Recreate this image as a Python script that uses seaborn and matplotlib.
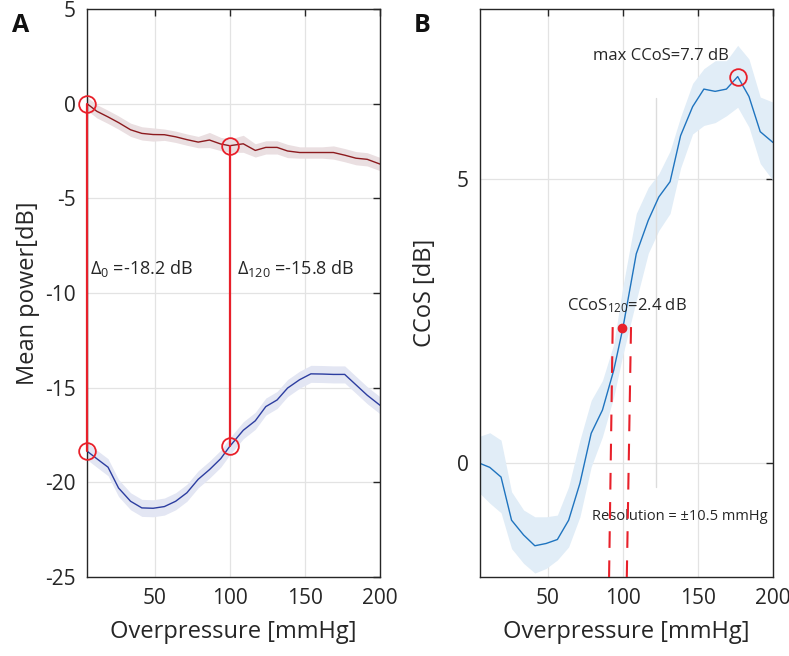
import numpy             as np
import pandas            as pd
import seaborn           as sns
import matplotlib.pyplot as plt


# ---- data ----
pressure = [5, 11.5, 19, 26, 34, 41.5, 49, 56.5, 64, 71.5, 79, 86.5, 94, 100,
            109, 117, 124, 131.5, 138.5, 146.5, 154, 161.5, 169, 176.5, 184, 191.5, 200]

power_ref = [0.0, -0.4, -0.7, -1.0, -1.38, -1.57, -1.63, -1.64, -1.75, -1.9, -2.03, -1.92, -2.13, -2.22,
             -2.12, -2.47, -2.31, -2.31, -2.5, -2.58, -2.58, -2.58, -2.58, -2.72, -2.88, -2.94, -3.19]
power_ref_sd = [0.35, 0.35, 0.35, 0.35, 0.35, 0.35, 0.35, 0.3, 0.3, 0.3, 0.3, 0.4, 0.35, 0.35,
                0.45, 0.35, 0.35, 0.35, 0.35, 0.3, 0.3, 0.3, 0.35, 0.35, 0.35, 0.35, 0.35]

power_occ = [-18.35, -18.75, -19.2, -20.3, -21.0, -21.35, -21.37, -21.28, -21.0, -20.55, -19.84, -19.33, -18.75, -18.1,
             -17.25, -16.75, -16.0, -15.65, -15.02, -14.58, -14.27, -14.28, -14.3, -14.3, -14.85, -15.4, -15.93]
power_occ_sd = [0.45, 0.45, 0.45, 0.45, 0.45, 0.45, 0.45, 0.45, 0.45, 0.45, 0.45, 0.45, 0.45, 0.45,
                0.45, 0.45, 0.45, 0.45, 0.45, 0.45, 0.45, 0.45, 0.45, 0.45, 0.45, 0.45, 0.45]

ccos = [0.0, -0.07, -0.24, -1.0, -1.26, -1.45, -1.41, -1.34, -1.0, -0.35, 0.53, 0.94, 1.64, 2.37,
        3.69, 4.28, 4.69, 4.96, 5.77, 6.28, 6.59, 6.55, 6.59, 6.81, 6.46, 5.84, 5.65]
ccos_hi = [0.48, 0.54, 0.41, -0.5, -0.82, -0.94, -0.94, -0.91, -0.41, 0.41, 1.11, 1.46, 2.1, 3.1,
           4.4, 4.86, 5.1, 5.5, 6.1, 6.69, 6.95, 7.09, 7.09, 7.36, 7.12, 6.45, 6.36]
ccos_lo = [-0.53, -0.7, -0.87, -1.5, -1.76, -1.93, -1.85, -1.7, -1.47, -0.94, -0.06, 0.47, 1.17, 1.9,
           2.87, 3.7, 4.1, 4.4, 5.2, 5.8, 5.95, 6.0, 6.12, 6.27, 5.92, 5.28, 4.98]

delta_x      = [5, 100]
delta_top    = [0.0, -2.22]
delta_bottom = [-18.35, -18.1]
delta_labels = ["Δ$_{0}$ =-18.2 dB", "Δ$_{120}$ =-15.8 dB"]

max_point   = (176.5, 6.81)
ccos120_pt  = (99.5, 2.38)
res_left    = ([93.3, 90.9], [2.4, -2.0])
res_right   = ([105.5, 102.7], [2.4, -2.0])

df = pd.DataFrame({
    "pressure"  : pressure,
    "power_ref" : power_ref,
    "power_occ" : power_occ,
    "ccos"      : ccos,
})

sns.set_style("white")
plt.rcParams["font.family"]        = ["Open Sans", "DejaVu Sans"]
plt.rcParams["mathtext.fontset"]   = "custom"
plt.rcParams["mathtext.rm"]        = "Open Sans"
plt.rcParams["mathtext.it"]        = "Open Sans"
plt.rcParams["mathtext.default"]   = "rm"
plt.rcParams["axes.unicode_minus"] = False

RED       = "#e8202a"
DARK_RED  = "#8c1a1e"
NAVY      = "#2c3da0"
BLUE      = "#1f74bf"
GRID      = "#e3e3e3"
SPINE     = "#262626"

fig = plt.figure(figsize=(7.89, 6.56), dpi=100)
axA = fig.add_axes([87/789, 79/656, 293/789, 568/656])
axB = fig.add_axes([480/789, 79/656, 293/789, 568/656])


def style_axes(ax):
    for s in ax.spines.values():
        s.set_color(SPINE)
        s.set_linewidth(1.0)
    ax.tick_params(
        direction ="in",
        top       =True,
        right     =True,
        length    =5,
        width     =1,
        color     =SPINE,
        labelsize =15,
        labelcolor="#262626",
        pad       =8
    )
    ax.grid(True, color=GRID, lw=0.9)
    ax.set_axisbelow(True)


# ---- panel A ----
axA.fill_between(df["pressure"], df["power_ref"] - np.array(power_ref_sd),
                 df["power_ref"] + np.array(power_ref_sd), color="#eadfe1", lw=0)
axA.fill_between(df["pressure"], df["power_occ"] - np.array(power_occ_sd),
                 df["power_occ"] + np.array(power_occ_sd), color="#e3e6f3", lw=0)
sns.lineplot(data=df, x="pressure", y="power_ref", ax=axA, color=DARK_RED, lw=1.0, errorbar=None)
sns.lineplot(data=df, x="pressure", y="power_occ", ax=axA, color=NAVY, lw=1.0, errorbar=None)

for xv, yt, yb in zip(delta_x, delta_top, delta_bottom):
    axA.plot([xv, xv], [yt, yb], color=RED, lw=1.6, zorder=6, clip_on=False)
    axA.plot([xv, xv], [yt, yb], "o", ms=12, mfc="none", mec=RED, mew=1.3,
             zorder=7, clip_on=False)

axA.text(7, -8.7, delta_labels[0], fontsize=13, va="center", ha="left", color="#262626")
axA.text(105, -8.7, delta_labels[1], fontsize=13, va="center", ha="left", color="#262626")

axA.set_xlim(5, 200)
axA.set_ylim(-25, 5)
axA.set_xticks([50, 100, 150, 200])
axA.set_yticks([-25, -20, -15, -10, -5, 0, 5])
style_axes(axA)
axA.set_xlabel("Overpressure [mmHg]", fontsize=17, color="#262626", labelpad=8)
axA.set_ylabel("Mean power[dB]", fontsize=17, color="#262626", labelpad=4)
fig.text(12/789, 1 - 32/656, "A", fontsize=18, fontweight="bold", color="#111111")

# ---- panel B ----
axB.fill_between(df["pressure"], ccos_lo, ccos_hi, color="#e1edf7", lw=0)
axB.plot([122, 122], [6.44, -0.42], color="#dcdcdc", lw=1.0, zorder=1)
sns.lineplot(data=df, x="pressure", y="ccos", ax=axB, color=BLUE, lw=1.0, errorbar=None)

axB.plot(*res_left, color=RED, lw=1.5, dashes=(8, 6), zorder=4)
axB.plot(*res_right, color=RED, lw=1.5, dashes=(8, 6), zorder=4)
axB.plot([max_point[0]], [max_point[1]], "o", ms=12, mfc="none", mec=RED, mew=1.3, zorder=5)
axB.plot([ccos120_pt[0]], [ccos120_pt[1]], "o", ms=6, color=RED, zorder=5)

axB.text(80.2, 7.18, "max CCoS=7.7 dB", fontsize=12, va="center", ha="left", color="#262626")
axB.text(62.9, 2.77, "CCoS$_{120}$=2.4 dB", fontsize=12, va="center", ha="left", color="#262626")
axB.text(79.5, -0.94, "Resolution = ±10.5 mmHg", fontsize=10.5, va="center", ha="left", color="#262626")

axB.set_xlim(5, 200)
axB.set_ylim(-2, 8)
axB.set_xticks([50, 100, 150, 200])
axB.set_yticks([0, 5])
style_axes(axB)
axB.set_xlabel("Overpressure [mmHg]", fontsize=17, color="#262626", labelpad=8)
axB.set_ylabel("CCoS [dB]", fontsize=17, color="#262626", labelpad=14)
fig.text(414/789, 1 - 32/656, "B", fontsize=18, fontweight="bold", color="#111111")

fig.savefig("out.png", dpi=100)
